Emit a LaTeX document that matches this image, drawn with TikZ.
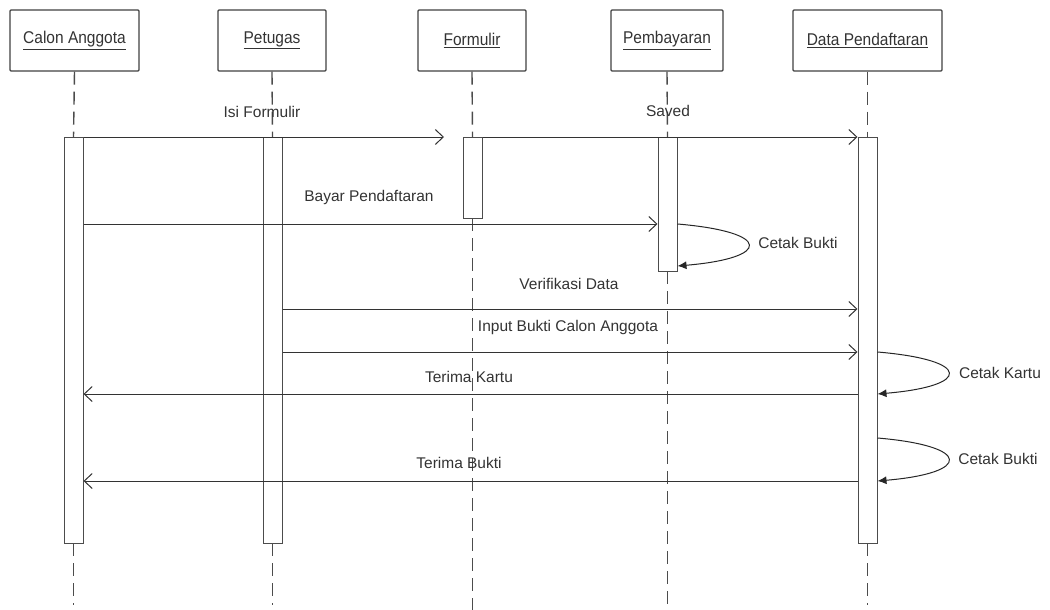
\documentclass[tikz,border=0pt]{standalone}
\usepackage{fontspec}
\setmainfont{Liberation Sans}
\usetikzlibrary{arrows.meta}
\newcommand{\ulbox}[1]{\underline{\scalebox{1}[1.1]{#1}}}
\begin{document}
\begin{tikzpicture}[x=1pt,y=-1pt,
  actor/.style={draw=black!75, line width=1.2pt, rounded corners=1pt, minimum height=61pt, inner sep=0pt, font=\fontsize{15.5}{18}\selectfont, text=black!80},
  bar/.style={draw=black!70, line width=1pt, fill=white, minimum width=19pt, inner sep=0pt, anchor=north},
  life/.style={draw=black!70, line width=1.4pt, dash pattern=on 13pt off 7pt},
  msg/.style={draw=black!80, line width=1pt, -{Straight Barb[length=8pt,width=15pt,line width=1pt]}},
  selfmsg/.style={draw=black!85, line width=1pt, -{Latex[length=9pt,width=8pt]}},
  lbl/.style={font=\fontsize{15.5}{18}\selectfont, text=black!80, inner sep=0pt}]
\useasboundingbox (0,0) rectangle (1050,610);

% actors
\node[actor, minimum width=129pt] (calon) at (74.5,40.5) {\ulbox{Calon Anggota}};
\node[actor, minimum width=108pt] (petugas) at (272,40.5) {\ulbox{Petugas}};
\node[actor, minimum width=108pt] (formulir) at (472,40.5) {\ulbox{Formulir}};
\node[actor, minimum width=112pt] (bayar) at (667,40.5) {\ulbox{Pembayaran}};
\node[actor, minimum width=149pt] (data) at (867.5,40.5) {\ulbox{Data Pendaftaran}};

% end points of lifelines
\coordinate (calend) at (73.5,605);
\coordinate (petend) at (272.5,605);
\coordinate (forend) at (472.5,612);
\coordinate (bayend) at (667.5,607);
\coordinate (datend) at (867.5,605);

% activation bar anchors (invisible, for lifelines)
\coordinate (caltop) at (73.5,137);  \coordinate (calbot) at (73.5,543);
\coordinate (pettop) at (272.5,137); \coordinate (petbot) at (272.5,543);
\coordinate (fortop) at (472.5,137); \coordinate (forbot) at (472.5,218);
\coordinate (baytop) at (667.5,137); \coordinate (baybot) at (667.5,271);
\coordinate (dattop) at (867.5,137); \coordinate (datbot) at (867.5,543);

% lifelines
\draw[life] (calon.south) -- (caltop);
\draw[life] (petugas.south) -- (pettop);
\draw[life] (formulir.south) -- (fortop);
\draw[life] (bayar.south) -- (baytop);
\draw[life] (data.south) -- (dattop);
\draw[life] (calbot) -- (calend);
\draw[life] (petbot) -- (petend);
\draw[life] (forbot) -- (forend);
\draw[life] (baybot) -- (bayend);
\draw[life] (datbot) -- (datend);

% activation bars
\node[bar, minimum height=406pt] (calbar) at (caltop) {};
\node[bar, minimum height=406pt] (petbar) at (pettop) {};
\node[bar, minimum height=81pt] (forbar) at (fortop) {};
\node[bar, minimum height=134pt] (baybar) at (baytop) {};
\node[bar, minimum height=406pt] (datbar) at (dattop) {};

% messages
\coordinate (isiend) at (444,137);
\draw[msg] (calbar.north east) -- (isiend);
\draw[msg] (forbar.north east) -- (datbar.north west);
\draw[msg] (calbar.east |- 0,224) -- (baybar.west |- 0,224);
\draw[msg] (petbar.east |- 0,309) -- (datbar.west |- 0,309);
\draw[msg] (petbar.east |- 0,352) -- (datbar.west |- 0,352);
\draw[msg] (datbar.west |- 0,394) -- (calbar.east |- 0,394);
\draw[msg] (datbar.west |- 0,481) -- (calbar.east |- 0,481);

% self messages
\draw[selfmsg] (baybar.east |- 0,224) .. controls (772,232) and (772,258) .. (baybar.east |- 0,266);
\draw[selfmsg] (datbar.east |- 0,352) .. controls (972,360) and (972,386) .. (datbar.east |- 0,394);
\draw[selfmsg] (datbar.east |- 0,438) .. controls (972,446) and (972,473) .. (datbar.east |- 0,481);

% labels
\node[lbl] (l1) at (262,112) {Isi Formulir};
\node[lbl] (l2) at (668,111) {Saved};
\node[lbl] (l3) at (369,197) {Bayar Pendaftaran};
\node[lbl] (l4) at (798,243) {Cetak Bukti};
\node[lbl] (l5) at (569,284) {Verifikasi Data};
\node[lbl] (l6) at (568,327) {Input Bukti Calon Anggota};
\node[lbl] (l7) at (469,377) {Terima Kartu};
\node[lbl] (l8) at (1000,373) {Cetak Kartu};
\node[lbl] (l9) at (459,463) {Terima Bukti};
\node[lbl] (l10) at (998,459) {Cetak Bukti};
\end{tikzpicture}
\end{document}
